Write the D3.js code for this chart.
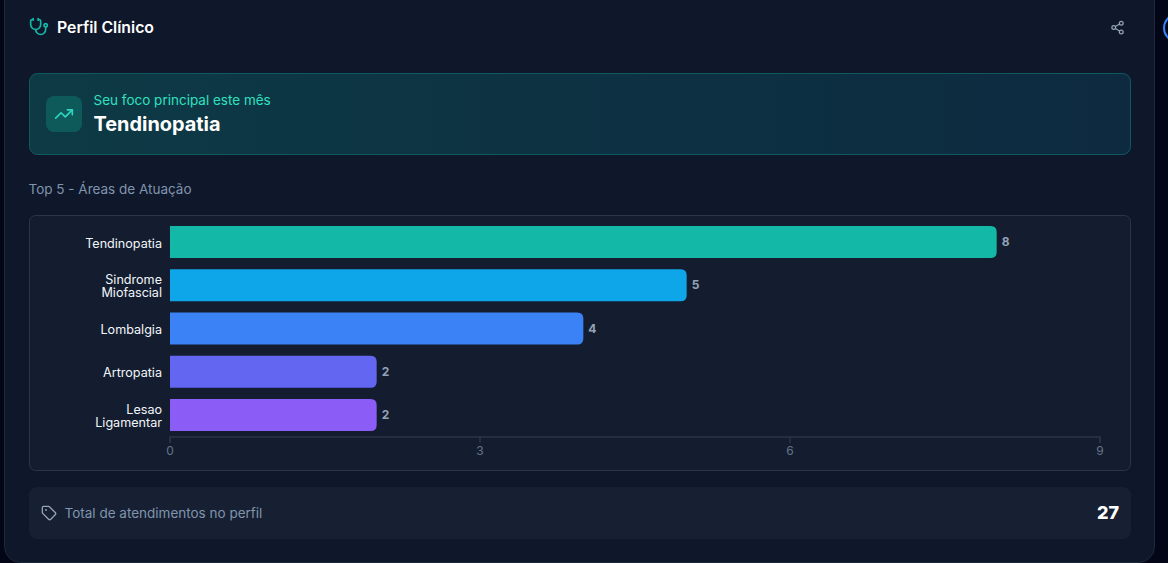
<!DOCTYPE html>
<html><head><meta charset="utf-8">
<script src="https://cdn.jsdelivr.net/npm/d3@7/dist/d3.min.js"></script>
<style>
html,body{margin:0;padding:0;background:#020617;overflow:hidden}
svg{display:block}
text{font-family:Inter,"Noto Sans",sans-serif}
</style></head><body>
<svg id="c" width="1168" height="563"></svg>
<script>
const categories=["Tendinopatia","Sindrome Miofascial","Lombalgia","Artropatia","Lesao Ligamentar"];
const values=[8,5,4,2,2];
const barColors=["#14b8a6","#0ea5e9","#3b82f6","#6366f1","#8b5cf6"];
const xTicks=[0,3,6,9];
const titleText="Perfil Clínico";
const focusLabel="Seu foco principal este mês";
const focusValue="Tendinopatia";
const sectionTitle="Top 5 - Áreas de Atuação";
const totalLabel="Total de atendimentos no perfil";
const totalValue=27;

const svg=d3.select("#c");
const defs=svg.append("defs");
const g=defs.append("linearGradient").attr("id","ban");
g.append("stop").attr("offset","0").attr("stop-color","#0d3a45");
g.append("stop").attr("offset","1").attr("stop-color","#0d2a40");

// page pieces
svg.append("rect").attr("x",4.5).attr("y",-20).attr("width",1150).attr("height",582.5).attr("rx",16)
  .attr("fill","#0f172a").attr("stroke","#1e293b");
svg.append("circle").attr("cx",1178).attr("cy",28).attr("r",14).attr("fill","none").attr("stroke","#3b82f6").attr("stroke-width",2);

function icon(x,y,s,color,sw,build){
  const n=svg.append("g").attr("transform",`translate(${x},${y}) scale(${s/24})`)
    .attr("fill","none").attr("stroke",color).attr("stroke-width",sw)
    .attr("stroke-linecap","round").attr("stroke-linejoin","round");
  build(n);
}
const paths=(n,a)=>a.forEach(d=>n.append("path").attr("d",d));

// header
icon(29,17,20,"#14b8a6",2,n=>{
  paths(n,["M11 2v2","M5 2v2","M5 3H4a2 2 0 0 0-2 2v4a6 6 0 0 0 12 0V5a2 2 0 0 0-2-2h-1","M8 15a6 6 0 0 0 12 0v-3"]);
  n.append("circle").attr("cx",20).attr("cy",10).attr("r",2);
});
svg.append("text").attr("x",57).attr("y",32.5).attr("font-size",15.8).attr("font-weight",600).attr("fill","#ffffff").text(titleText);
icon(1110,20,15,"#94a3b8",2,n=>{
  n.append("circle").attr("cx",18).attr("cy",5).attr("r",3);
  n.append("circle").attr("cx",6).attr("cy",12).attr("r",3);
  n.append("circle").attr("cx",18).attr("cy",19).attr("r",3);
  paths(n,["M8.59 13.51 15.42 17.49","M15.41 6.51 8.59 10.49"]);
});

// focus banner
svg.append("rect").attr("x",29.5).attr("y",73.5).attr("width",1101).attr("height",81).attr("rx",8)
  .attr("fill","url(#ban)").attr("stroke","#0f5a5f");
svg.append("rect").attr("x",46).attr("y",96).attr("width",36).attr("height",36).attr("rx",8).attr("fill","#0e5a5a");
icon(54,104,20,"#2dd4bf",2,n=>paths(n,["M16 7h6v6","m22 7-8.5 8.5-5-5L2 17"]));
svg.append("text").attr("x",93.5).attr("y",105).attr("font-size",13.5).attr("fill","#30e0c0").text(focusLabel);
svg.append("text").attr("x",93.5).attr("y",131).attr("font-size",19.9).attr("font-weight",700).attr("fill","#ffffff").text(focusValue);

svg.append("text").attr("x",28.5).attr("y",194).attr("font-size",13.5).attr("font-weight",400).attr("fill","#8094ad").text(sectionTitle);

// chart panel
svg.append("rect").attr("x",29.5).attr("y",215.5).attr("width",1101).attr("height",255).attr("rx",6)
  .attr("fill","#141d2f").attr("stroke","#2a3648");

const x=d3.scaleLinear().domain([0,9]).range([170,1100]);
const y=d3.scaleBand().domain(categories).range([220.5,436.5]).paddingInner(0.26).paddingOuter(0.13);
const rows=categories.map((c,i)=>({c,v:values[i],col:barColors[i]}));

svg.append("g").selectAll("path").data(rows).join("path")
  .attr("fill",d=>d.col)
  .attr("d",d=>{
    const x0=x(0),x1=x(d.v),y0=y(d.c),h=y.bandwidth(),r=6;
    return `M${x0},${y0}H${x1-r}Q${x1},${y0} ${x1},${y0+r}V${y0+h-r}Q${x1},${y0+h} ${x1-r},${y0+h}H${x0}Z`;
  });

svg.append("g").selectAll("text").data(rows).join("text")
  .attr("x",d=>x(d.v)+5).attr("y",d=>y(d.c)+y.bandwidth()/2+4)
  .attr("font-size",12).attr("font-weight",700).attr("fill","#94a3b8").text(d=>d.v);

const cat=svg.append("g").selectAll("text").data(rows).join("text")
  .attr("text-anchor","end").attr("font-size",12.6).attr("fill","#f1f5f9");
cat.each(function(d){
  const w=d.c.split(" "),cy=y(d.c)+y.bandwidth()/2;
  const t=d3.select(this);
  w.forEach((s,i)=>t.append("tspan").attr("x",162).attr("y",cy+5.5+(i-(w.length-1)/2)*13).text(s));
});

const ax=svg.append("g").attr("transform","translate(0,437)")
  .call(d3.axisBottom(x).offset(0).tickValues(xTicks).tickSize(6).tickPadding(3));
ax.selectAll("path,line").attr("stroke","#283447").attr("stroke-width",1.5);
ax.selectAll("text").attr("fill","#64748b").attr("font-size",12).attr("font-family","Inter");

// total
svg.append("rect").attr("x",29).attr("y",487).attr("width",1102).attr("height",52).attr("rx",8).attr("fill","#162032");
icon(41,505,16,"#94a3b8",2,n=>{
  paths(n,["M12.586 2.586A2 2 0 0 0 11.172 2H4a2 2 0 0 0-2 2v7.172a2 2 0 0 0 .586 1.414l8.704 8.704a2.426 2.426 0 0 0 3.42 0l6.58-6.58a2.426 2.426 0 0 0 0-3.42z"]);
  n.append("circle").attr("cx",7.5).attr("cy",7.5).attr("r",.5).attr("fill","#94a3b8");
});
svg.append("text").attr("x",64.5).attr("y",518).attr("font-size",13.5).attr("fill","#8094ad").text(totalLabel);
svg.append("text").attr("x",1119).attr("y",518.5).attr("text-anchor","end").attr("font-size",18).attr("font-weight",800).attr("fill","#ffffff").text(totalValue);
</script></body></html>
